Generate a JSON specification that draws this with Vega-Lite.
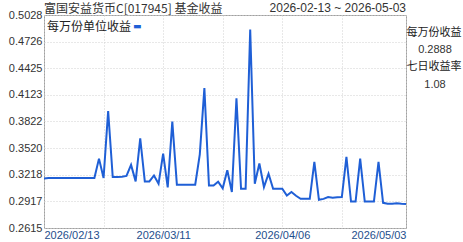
{
  "$schema": "https://vega.github.io/schema/vega-lite/v6.json",
  "autosize": {"type": "none"},
  "width": 362,
  "height": 213,
  "padding": {"left": 44, "top": 15, "right": 57, "bottom": 14},
  "background": "white",
  "config": {
    "font": "Liberation Sans, Noto Sans CJK SC",
    "view": {"stroke": "#a0a0a0", "strokeWidth": 1}
  },
  "layer": [
    {
      "data": {"values": [
        {"date": "2026-02-13", "v": 0.3175},
        {"date": "2026-02-14", "v": 0.3182},
        {"date": "2026-02-15", "v": 0.3182},
        {"date": "2026-02-16", "v": 0.3182},
        {"date": "2026-02-17", "v": 0.3182},
        {"date": "2026-02-18", "v": 0.3182},
        {"date": "2026-02-19", "v": 0.3182},
        {"date": "2026-02-20", "v": 0.3182},
        {"date": "2026-02-21", "v": 0.3182},
        {"date": "2026-02-22", "v": 0.3182},
        {"date": "2026-02-23", "v": 0.3182},
        {"date": "2026-02-24", "v": 0.3182},
        {"date": "2026-02-25", "v": 0.3401},
        {"date": "2026-02-26", "v": 0.3182},
        {"date": "2026-02-27", "v": 0.3940},
        {"date": "2026-02-28", "v": 0.3193},
        {"date": "2026-03-01", "v": 0.3193},
        {"date": "2026-03-02", "v": 0.3196},
        {"date": "2026-03-03", "v": 0.3205},
        {"date": "2026-03-04", "v": 0.3330},
        {"date": "2026-03-05", "v": 0.3143},
        {"date": "2026-03-06", "v": 0.3630},
        {"date": "2026-03-07", "v": 0.3143},
        {"date": "2026-03-08", "v": 0.3143},
        {"date": "2026-03-09", "v": 0.3210},
        {"date": "2026-03-10", "v": 0.3116},
        {"date": "2026-03-11", "v": 0.3458},
        {"date": "2026-03-12", "v": 0.3075},
        {"date": "2026-03-13", "v": 0.3820},
        {"date": "2026-03-14", "v": 0.3105},
        {"date": "2026-03-15", "v": 0.3105},
        {"date": "2026-03-16", "v": 0.3105},
        {"date": "2026-03-17", "v": 0.3105},
        {"date": "2026-03-18", "v": 0.3105},
        {"date": "2026-03-19", "v": 0.3450},
        {"date": "2026-03-20", "v": 0.4200},
        {"date": "2026-03-21", "v": 0.3097},
        {"date": "2026-03-22", "v": 0.3097},
        {"date": "2026-03-23", "v": 0.3140},
        {"date": "2026-03-24", "v": 0.3065},
        {"date": "2026-03-25", "v": 0.3270},
        {"date": "2026-03-26", "v": 0.3022},
        {"date": "2026-03-27", "v": 0.4085},
        {"date": "2026-03-28", "v": 0.3060},
        {"date": "2026-03-29", "v": 0.3060},
        {"date": "2026-03-30", "v": 0.4864},
        {"date": "2026-03-31", "v": 0.3116},
        {"date": "2026-04-01", "v": 0.3345},
        {"date": "2026-04-02", "v": 0.3079},
        {"date": "2026-04-03", "v": 0.3230},
        {"date": "2026-04-04", "v": 0.3060},
        {"date": "2026-04-05", "v": 0.3060},
        {"date": "2026-04-06", "v": 0.3060},
        {"date": "2026-04-07", "v": 0.2983},
        {"date": "2026-04-08", "v": 0.3022},
        {"date": "2026-04-09", "v": 0.2980},
        {"date": "2026-04-10", "v": 0.2945},
        {"date": "2026-04-11", "v": 0.2945},
        {"date": "2026-04-12", "v": 0.2945},
        {"date": "2026-04-13", "v": 0.3364},
        {"date": "2026-04-14", "v": 0.2934},
        {"date": "2026-04-15", "v": 0.2945},
        {"date": "2026-04-16", "v": 0.2965},
        {"date": "2026-04-17", "v": 0.2958},
        {"date": "2026-04-18", "v": 0.2962},
        {"date": "2026-04-19", "v": 0.2965},
        {"date": "2026-04-20", "v": 0.3420},
        {"date": "2026-04-21", "v": 0.2915},
        {"date": "2026-04-22", "v": 0.2915},
        {"date": "2026-04-23", "v": 0.3401},
        {"date": "2026-04-24", "v": 0.2915},
        {"date": "2026-04-25", "v": 0.2915},
        {"date": "2026-04-26", "v": 0.2915},
        {"date": "2026-04-27", "v": 0.3364},
        {"date": "2026-04-28", "v": 0.2900},
        {"date": "2026-04-29", "v": 0.2889},
        {"date": "2026-04-30", "v": 0.2889},
        {"date": "2026-05-01", "v": 0.2895},
        {"date": "2026-05-02", "v": 0.2890},
        {"date": "2026-05-03", "v": 0.2888}
      ]},
      "mark": {"type": "line", "color": "#1f5fd6", "strokeWidth": 2, "clip": true},
      "encoding": {
        "x": {
          "field": "date", "type": "temporal",
          "scale": {"type": "utc", "domain": [{"year": 2026, "month": 2, "date": 13, "utc": true}, {"year": 2026, "month": 5, "date": 3, "utc": true}]},
          "axis": {
            "title": null,
            "tickCount": 30,
            "values": [
              {"year": 2026, "month": 2, "date": 13, "utc": true},
              {"year": 2026, "month": 2, "date": 26, "utc": true},
              {"year": 2026, "month": 3, "date": 11, "utc": true},
              {"year": 2026, "month": 3, "date": 24, "utc": true},
              {"year": 2026, "month": 4, "date": 6, "utc": true},
              {"year": 2026, "month": 4, "date": 19, "utc": true},
              {"year": 2026, "month": 5, "date": 3, "utc": true}
            ],
            "labelExpr": "indexof(['2026/02/13','2026/03/11','2026/04/06','2026/05/03'], utcFormat(datum.value, '%Y/%m/%d')) >= 0 ? utcFormat(datum.value, '%Y/%m/%d') : ''",
            "labelFlush": true,
            "labelColor": "#1e4e8c",
            "labelFontSize": 11,
            "labelPadding": 1,
            "domain": false,
            "ticks": false,
            "grid": true,
            "gridColor": "#d0d0d0",
            "gridDash": [1, 2],
            "labelOverlap": false
          }
        },
        "y": {
          "field": "v", "type": "quantitative",
          "scale": {"domain": [0.2615, 0.5028], "nice": false, "zero": false},
          "axis": {
            "title": null,
            "tickCount": 30,
            "values": [0.2615, 0.2917, 0.3218, 0.352, 0.3822, 0.4123, 0.4425, 0.4726, 0.5028],
            "format": ".4f",
            "labelColor": "#333333",
            "labelFontSize": 11,
            "labelPadding": 2,
            "domain": false,
            "ticks": false,
            "grid": true,
            "gridColor": "#d0d0d0",
            "gridDash": [1, 2],
            "labelOverlap": false
          }
        }
      }
    },
    {
      "data": {"values": [{}]},
      "mark": {"type": "text", "align": "left", "baseline": "middle", "dx": 0, "dy": -6, "fontSize": 12, "color": "#333333", "font": "Noto Sans CJK SC"},
      "encoding": {
        "x": {"datum": {"year": 2026, "month": 2, "date": 13, "utc": true}, "type": "temporal"},
        "y": {"datum": 0.5028, "type": "quantitative"},
        "text": {"value": "富国安益货币C[017945] 基金收益"}
      }
    },
    {
      "data": {"values": [{}]},
      "mark": {"type": "text", "align": "right", "baseline": "middle", "dx": 0, "dy": -7, "fontSize": 12, "color": "#333333"},
      "encoding": {
        "x": {"datum": {"year": 2026, "month": 5, "date": 3, "utc": true}, "type": "temporal"},
        "y": {"datum": 0.5028, "type": "quantitative"},
        "text": {"value": "2026-02-13 ~ 2026-05-03"}
      }
    },
    {
      "data": {"values": [{}]},
      "mark": {"type": "text", "align": "left", "baseline": "middle", "dx": 3, "dy": 12, "fontSize": 12, "color": "#222222", "font": "Noto Sans CJK SC"},
      "encoding": {
        "x": {"datum": {"year": 2026, "month": 2, "date": 13, "utc": true}, "type": "temporal"},
        "y": {"datum": 0.5028, "type": "quantitative"},
        "text": {"value": "每万份单位收益"}
      }
    },
    {
      "data": {"values": [{}]},
      "mark": {"type": "text", "align": "left", "baseline": "middle", "dx": 89, "dy": 11, "fontSize": 9, "color": "#1f5fd6", "font": "DejaVu Sans"},
      "encoding": {
        "x": {"datum": {"year": 2026, "month": 2, "date": 13, "utc": true}, "type": "temporal"},
        "y": {"datum": 0.5028, "type": "quantitative"},
        "text": {"value": "▬"}
      }
    },
    {
      "data": {"values": [{}]},
      "mark": {"type": "text", "align": "center", "baseline": "middle", "dx": 28, "dy": 18, "fontSize": 11, "color": "#222222", "font": "Noto Sans CJK SC"},
      "encoding": {
        "x": {"datum": {"year": 2026, "month": 5, "date": 3, "utc": true}, "type": "temporal"},
        "y": {"datum": 0.5028, "type": "quantitative"},
        "text": {"value": "每万份收益"}
      }
    },
    {
      "data": {"values": [{}]},
      "mark": {"type": "text", "align": "center", "baseline": "middle", "dx": 29, "dy": 35, "fontSize": 11, "color": "#333333"},
      "encoding": {
        "x": {"datum": {"year": 2026, "month": 5, "date": 3, "utc": true}, "type": "temporal"},
        "y": {"datum": 0.5028, "type": "quantitative"},
        "text": {"value": "0.2888"}
      }
    },
    {
      "data": {"values": [{}]},
      "mark": {"type": "text", "align": "center", "baseline": "middle", "dx": 28, "dy": 52, "fontSize": 11, "color": "#222222", "font": "Noto Sans CJK SC"},
      "encoding": {
        "x": {"datum": {"year": 2026, "month": 5, "date": 3, "utc": true}, "type": "temporal"},
        "y": {"datum": 0.5028, "type": "quantitative"},
        "text": {"value": "七日收益率"}
      }
    },
    {
      "data": {"values": [{}]},
      "mark": {"type": "text", "align": "center", "baseline": "middle", "dx": 29, "dy": 70, "fontSize": 11, "color": "#333333"},
      "encoding": {
        "x": {"datum": {"year": 2026, "month": 5, "date": 3, "utc": true}, "type": "temporal"},
        "y": {"datum": 0.5028, "type": "quantitative"},
        "text": {"value": "1.08"}
      }
    }
  ]
}
